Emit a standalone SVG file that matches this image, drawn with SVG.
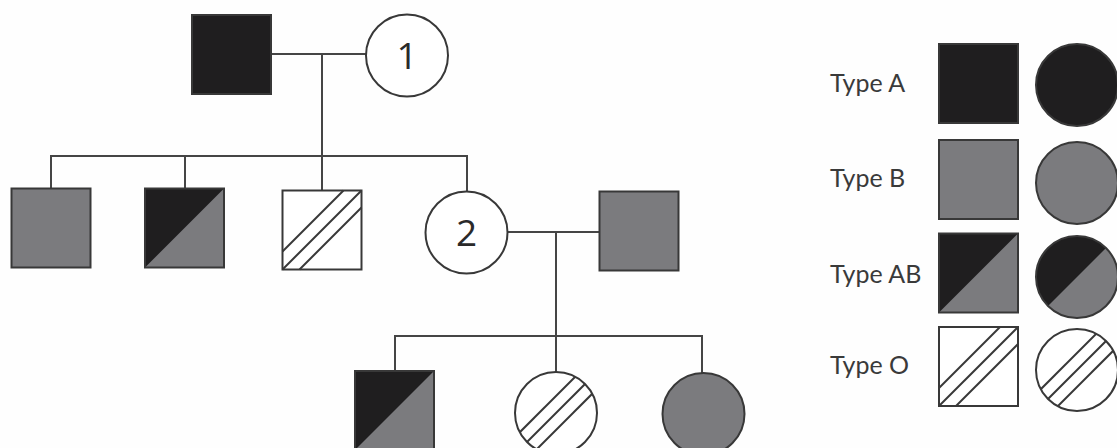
<svg xmlns="http://www.w3.org/2000/svg" xmlns:xlink="http://www.w3.org/1999/xlink" width="1117" height="448" viewBox="0 0 1117 448">
  <style>
    .bg { fill: #fefefe; }
    .blk { fill: #1f1e1f; }
    .gry { fill: #7b7b7e; }
    .wht { fill: #ffffff; }
    .edge { fill: none; stroke: #383838; stroke-width: 2; }
    .hatch { stroke: #383838; stroke-width: 2; fill: none; }
    .conn { stroke: #454545; stroke-width: 2; fill: none; }
    .num { font-family: "Open Sans", "Liberation Sans", sans-serif; font-size: 37px; fill: #2a2a2a; text-anchor: middle; }
    .lbl { font-family: Lato, "Open Sans", "Liberation Sans", sans-serif; font-size: 25px; fill: #3a3a3a; }
  </style>
  <defs>
    <clipPath id="cclip"><circle cx="0" cy="0" r="41"/></clipPath>
    <g id="sqA"><rect x="-39.5" y="-39.5" width="79" height="79" class="blk"/><rect x="-39.5" y="-39.5" width="79" height="79" class="edge"/></g>
    <g id="sqB"><rect x="-39.5" y="-39.5" width="79" height="79" class="gry"/><rect x="-39.5" y="-39.5" width="79" height="79" class="edge"/></g>
    <g id="sqAB"><rect x="-39.5" y="-39.5" width="79" height="79" class="gry"/><polygon points="-39.5,-39.5 39.5,-39.5 -39.5,39.5" class="blk"/><rect x="-39.5" y="-39.5" width="79" height="79" class="edge"/></g>
    <g id="sqO"><rect x="-39.5" y="-39.5" width="79" height="79" class="wht"/>
      <line x1="-39.5" y1="21.5" x2="21.5" y2="-39.5" class="hatch"/>
      <line x1="-39.5" y1="39.5" x2="39.5" y2="-39.5" class="hatch"/>
      <line x1="-22.5" y1="39.5" x2="39.5" y2="-22.5" class="hatch"/>
      <rect x="-39.5" y="-39.5" width="79" height="79" class="edge"/></g>
    <g id="ciA"><circle r="41" class="blk"/><circle r="41" class="edge"/></g>
    <g id="ciB"><circle r="41" class="gry"/><circle r="41" class="edge"/></g>
    <g id="ciAB"><circle r="41" class="gry"/><path d="M -29 29 L 29 -29 A 41 41 0 0 0 -29 29 Z" class="blk"/><circle r="41" class="edge"/></g>
    <g id="ciO"><circle r="41" class="wht"/>
      <g clip-path="url(#cclip)">
        <line x1="-60" y1="43" x2="43" y2="-60" class="hatch"/>
        <line x1="-50" y1="50" x2="50" y2="-50" class="hatch"/>
        <line x1="-43" y1="60" x2="60" y2="-43" class="hatch"/>
      </g>
      <circle r="41" class="edge"/></g>
    <g id="ciW"><circle r="41" class="wht"/><circle r="41" class="edge"/></g>
  </defs>
  <rect x="0" y="0" width="1117" height="448" class="bg"/>

  <g id="connectors">
    <line x1="271" y1="54" x2="366" y2="54" class="conn"/>
    <line x1="322" y1="54" x2="322" y2="190" class="conn"/>
    <line x1="50" y1="156" x2="467" y2="156" class="conn"/>
    <line x1="51" y1="155" x2="51" y2="189" class="conn"/>
    <line x1="185" y1="155" x2="185" y2="189" class="conn"/>
    <line x1="467" y1="155" x2="467" y2="192" class="conn"/>
    <line x1="507" y1="232" x2="600" y2="232" class="conn"/>
    <line x1="556" y1="232" x2="556" y2="372" class="conn"/>
    <line x1="395" y1="336" x2="702" y2="336" class="conn"/>
    <line x1="395" y1="335" x2="395" y2="371" class="conn"/>
    <line x1="702" y1="335" x2="702" y2="373" class="conn"/>
  </g>

  <g id="father1" transform="translate(231.5,54.5)"><use xlink:href="#sqA"/></g>
  <g id="mother1" transform="translate(407,55.5)"><use xlink:href="#ciW"/><text class="num" x="0" y="13">1</text></g>

  <g id="child1" transform="translate(51,228)"><use xlink:href="#sqB"/></g>
  <g id="child2" transform="translate(184.5,228)"><use xlink:href="#sqAB"/></g>
  <g id="child3" transform="translate(322,230)"><use xlink:href="#sqO"/></g>
  <g id="mother2" transform="translate(466.5,232.5)"><use xlink:href="#ciW"/><text class="num" x="0" y="13">2</text></g>
  <g id="father2" transform="translate(639,231)"><use xlink:href="#sqB"/></g>

  <g id="gchild1" transform="translate(394.5,410.5)"><use xlink:href="#sqAB"/></g>
  <g id="gchild2" transform="translate(556,413)"><use xlink:href="#ciO"/></g>
  <g id="gchild3" transform="translate(703.5,414)"><use xlink:href="#ciB"/></g>

  <g id="legend">
    <g id="legA">
      <text class="lbl" x="830" y="92">Type A</text>
      <g transform="translate(978.5,83.5)"><use xlink:href="#sqA"/></g>
      <g transform="translate(1077,85)"><use xlink:href="#ciA"/></g>
    </g>
    <g id="legB">
      <text class="lbl" x="830" y="187">Type B</text>
      <g transform="translate(978.5,179.5)"><use xlink:href="#sqB"/></g>
      <g transform="translate(1077,183)"><use xlink:href="#ciB"/></g>
    </g>
    <g id="legAB">
      <text class="lbl" x="830" y="283">Type AB</text>
      <g transform="translate(978.5,273)"><use xlink:href="#sqAB"/></g>
      <g transform="translate(1077,277)"><use xlink:href="#ciAB"/></g>
    </g>
    <g id="legO">
      <text class="lbl" x="830" y="374">Type O</text>
      <g transform="translate(978.5,366.5)"><use xlink:href="#sqO"/></g>
      <g transform="translate(1077,370)"><use xlink:href="#ciO"/></g>
    </g>
  </g>
</svg>
